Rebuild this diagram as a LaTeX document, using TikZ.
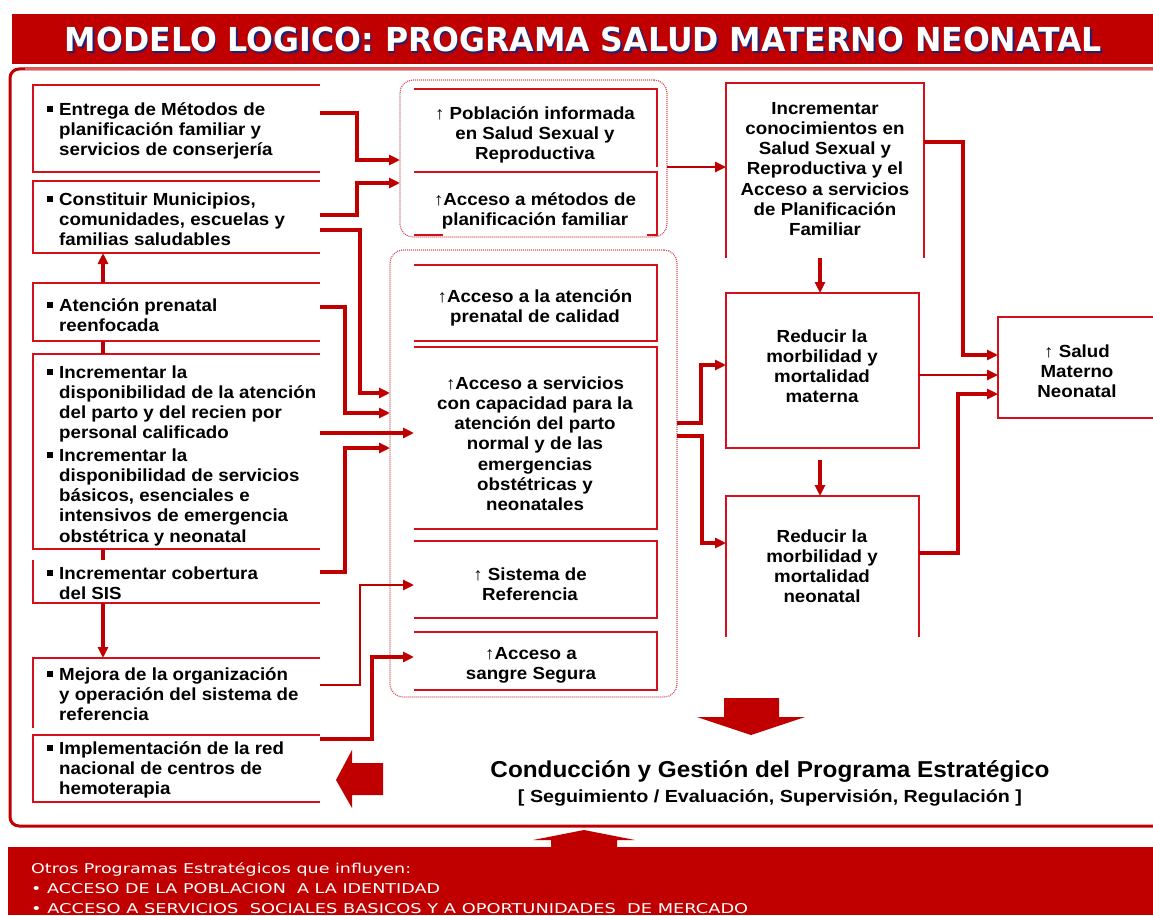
\documentclass[tikz,border=0pt]{standalone}
\usepackage{fontspec}
\setmainfont{Liberation Sans}
\newfontfamily\boxfont{Liberation Sans}[FakeStretch=1.07]
\newfontfamily\titlefont{DejaVu Sans}
\usetikzlibrary{arrows.meta,fit}
\definecolor{rojo}{RGB}{192,0,0}
\definecolor{linea}{RGB}{212,16,28}
\definecolor{punteado}{RGB}{205,80,90}
\definecolor{sombra}{RGB}{25,35,120}
\definecolor{bordesup}{RGB}{225,90,95}
\newcommand{\bul}{\llap{\raisebox{3pt}{\rule{6pt}{6pt}}\hspace{6pt}}}
\begin{document}
\begin{tikzpicture}[x=1pt,y=-1pt,
  boxline/.style={draw=linea, line width=1.8pt},
  area/.style={inner sep=0pt, outer sep=0pt},
  grp/.style={draw=punteado, dash pattern=on 1pt off 1pt, line width=1.2pt, rounded corners=13pt, inner sep=0pt, outer sep=0pt},
  conn/.style={draw=rojo, line width=3.6pt, -{Triangle[length=11pt,width=10pt]}},
  connthin/.style={conn, line width=2.6pt},
  link/.style={draw=rojo, line width=3.6pt},
  ltext/.style={font=\boxfont\bfseries\fontsize{17.5}{20.3}\selectfont, align=left, inner sep=0pt, anchor=base west},
  ctext/.style={font=\boxfont\bfseries\fontsize{17.5}{20.3}\selectfont, align=center, inner sep=0pt, anchor=base},
  block/.style={fill=rojo}
]
\useasboundingbox (0,0) rectangle (1153,915);
\clip (0,0) rectangle (1153,915);

% title bar
\fill[rojo] (12,14) rectangle (1153,64);
\node[inner sep=0pt, anchor=base, text=sombra, font=\titlefont\bfseries\fontsize{33}{33}\selectfont] (titleshadow) at (585,53.5) {\resizebox{1037pt}{24.5pt}{MODELO LOGICO: PROGRAMA SALUD MATERNO NEONATAL}};
\node[inner sep=0pt, anchor=base, text=white, font=\titlefont\bfseries\fontsize{33}{33}\selectfont] (title) at (583.5,52) {\resizebox{1037pt}{24.5pt}{MODELO LOGICO: PROGRAMA SALUD MATERNO NEONATAL}};

% outer frame
\draw[rojo, line width=3pt, rounded corners=9pt] (1175,69) -- (10,69) -- (10,826) -- (1175,826);
\draw[bordesup, line width=2pt] (25,69) -- (1153,69);

% bottom band
\fill[rojo] (8,847) rectangle (1153,915);
\fill[block] (551,848) -- (551,840) -- (533,840) -- (584,830) -- (635,840) -- (617,840) -- (617,848) -- cycle;
\node[inner sep=0pt, anchor=base west, text=white, font=\titlefont\fontsize{13.5}{13.5}\selectfont] (ot1) at (31,873) {\resizebox{380pt}{\height}{Otros Programas Estratégicos que influyen:}};
\node[inner sep=0pt, anchor=base west, text=white, font=\titlefont\fontsize{13.5}{13.5}\selectfont] (ot2) at (31,893) {\resizebox{409pt}{\height}{• ACCESO DE LA POBLACION\ \ A LA IDENTIDAD}};
\node[inner sep=0pt, anchor=base west, text=white, font=\titlefont\fontsize{13.5}{13.5}\selectfont] (ot3) at (31,913) {\resizebox{717pt}{\height}{• ACCESO A SERVICIOS\ \ SOCIALES BASICOS Y A OPORTUNIDADES\ \ DE MERCADO}};

% ---------- left column boxes
\node[area, fit={(33,85)(320,172)}] (L1) {};
\node[area, fit={(33,181)(320,253)}] (L2) {};
\node[area, fit={(33,283)(320,341)}] (L3) {};
\node[area, fit={(33,354)(320,549)}] (L4) {};
\node[area, fit={(33,560)(320,603)}] (L5) {};
\node[area, fit={(33,658)(320,728)}] (L6) {};
\node[area, fit={(33,735)(320,802)}] (L7) {};
\draw[boxline] (L1.north east) -- (L1.north west) -- (L1.south west) -- (L1.south east);
\draw[boxline] (L2.north east) -- (L2.north west) -- (L2.south west) -- (L2.south east);
\draw[boxline] (L3.north east) -- (L3.north west) -- (L3.south west) -- (L3.south east);
\draw[boxline] (L4.north east) -- (L4.north west) -- (L4.south west) -- (L4.south east);
\draw[boxline] (L5.north west) -- (L5.south west) -- (L5.south east);
\draw[boxline] (L6.north east) -- (L6.north west) -- (L6.south west);
\draw[boxline] (L7.north east) -- (L7.north west) -- (L7.south west) -- (L7.south east);

% (anchors are at the baseline of the last line)
\node[ltext] (L1t) at (59,155.6) {\bul Entrega de Métodos de\\planificación familiar y\\servicios de conserjería};
\node[ltext] (L2t) at (59,245.6) {\bul Constituir Municipios,\\comunidades, escuelas y\\familias saludables};
\node[ltext] (L3t) at (59,331.3) {\bul Atención prenatal\\reenfocada};
\node[ltext] (L4at) at (59,438.9) {\bul Incrementar la\\disponibilidad de la atención\\del parto y del recien por\\personal calificado};
\node[ltext] (L4bt) at (59,542.2) {\bul Incrementar la\\disponibilidad de servicios\\básicos, esenciales e\\intensivos de emergencia\\obstétrica y neonatal};
\node[ltext] (L5t) at (59,599.3) {\bul Incrementar cobertura\\del SIS};
\node[ltext] (L6t) at (59,720.6) {\bul Mejora de la organización\\y operación del sistema de\\referencia};
\node[ltext] (L7t) at (59,794.6) {\bul Implementación de la red\\nacional de centros de\\hemoterapia};

% ---------- middle groups
\node[grp, fit={(400,80)(667,237)}] (G1) {};
\node[grp, fit={(390,250)(677,697)}] (G2) {};
\node[area, fit={(414,89)(657,172)}] (M1) {};
\node[area, fit={(414,172)(657,235)}] (M2) {};
\node[area, fit={(414,265)(657,341)}] (M3) {};
\node[area, fit={(414,347)(657,529)}] (M4) {};
\node[area, fit={(414,541)(657,618)}] (M5) {};
\node[area, fit={(414,632)(657,690)}] (M6) {};
\draw[boxline] (M1.north west) -- (M1.north east) -- ([yshift=5pt]M1.south east);
\draw[boxline] (M2.north west) -- (M2.north east) -- (M2.south east) -- ++(-10,0);
\draw[boxline] (M2.south west) -- ++(29,0);
\draw[boxline] (M3.north west) -- (M3.north east) -- (M3.south east) -- (M3.south west);
\draw[boxline] (M4.north west) -- (M4.north east) -- (M4.south east) -- (M4.south west);
\draw[boxline] (M5.north west) -- (M5.north east) -- (M5.south east) -- (M5.south west);
\draw[boxline] (M6.north west) -- (M6.north east) -- (M6.south east) -- (M6.south west);

\node[ctext] (M1t) at (535,159.6) {↑ Población informada\\en Salud Sexual y\\Reproductiva};
\node[ctext] (M2t) at (535,225.3) {↑Acceso a métodos de\\planificación familiar};
\node[ctext] (M3t) at (535,322.3) {↑Acceso a la atención\\prenatal de calidad};
\node[ctext] (M4t) at (535,510.8) {↑Acceso a servicios\\con capacidad para la\\atención del parto\\normal y de las\\emergencias\\obstétricas y\\neonatales};
\node[ctext] (M5t) at (530,600.3) {↑ Sistema de\\Referencia};
\node[ctext] (M6t) at (531,679.3) {↑Acceso a\\sangre Segura};

% ---------- right column
\node[area, fit={(726,83)(924,258)}] (R1) {};
\node[area, fit={(726,293)(919,448)}] (R2) {};
\node[area, fit={(726,496)(919,637)}] (R3) {};
\node[area, fit={(998,317)(1160,418)}] (R4) {};
\draw[boxline] (R1.south west) -- (R1.north west) -- (R1.north east) -- (R1.south east);
\draw[boxline] (R2.south west) rectangle (R2.north east);
\draw[boxline] (R3.south west) -- (R3.north west) -- (R3.north east) -- (R3.south east);
\draw[boxline] (R4.north east) -- (R4.north west) -- (R4.south west) -- (R4.south east);

\node[ctext] (R1t) at (825,235.8) {Incrementar\\conocimientos en\\Salud Sexual y\\Reproductiva y el\\Acceso a servicios\\de Planificación\\Familiar};
\node[ctext] (R2t) at (822,402.9) {Reducir la\\morbilidad y\\mortalidad\\materna};
\node[ctext] (R3t) at (822,602.9) {Reducir la\\morbilidad y\\mortalidad\\neonatal};
\node[ctext] (R4t) at (1077,397.6) {↑ Salud\\Materno\\Neonatal};

% ---------- connectors left -> middle
\draw[conn] ([yshift=-28pt]L1.north east) -- ++(37,0) |- ([yshift=-80pt]G1.north west);
\draw[conn] ([yshift=-34pt]L2.north east) -- ++(37,0) |- ([yshift=-103pt]G1.north west);
\draw[conn] ([yshift=-49pt]L2.north east) -- ++(40,0) |- ([yshift=-143pt]G2.north west);
\draw[conn] ([yshift=-24pt]L3.north east) -- ++(25,0) |- ([yshift=-163pt]G2.north west);
\draw[conn, line width=4.4pt] ([yshift=-79pt]L4.north east) -- ([yshift=-86pt]M4.north west);
\draw[conn] ([yshift=-12pt]L5.north east) -- ++(25,0) |- ([yshift=-198pt]G2.north west);
\draw[connthin] ([yshift=-27pt]L6.north east) -- ++(40,0) |- ([yshift=-44pt]M5.north west);
\draw[conn] ([yshift=-4pt]L7.north east) -- ++(52,0) |- ([yshift=-25pt]M6.north west);

% vertical links in left column
\draw[conn] ([xshift=70pt]L3.north west) -- ([xshift=70pt]L2.south west);
\draw[link] ([xshift=70pt]L3.south west) -- ([xshift=70pt]L4.north west);
\draw[link] ([xshift=70pt]L4.south west) -- ([xshift=70pt]L5.north west);
\draw[conn] ([xshift=70pt]L5.south west) -- ([xshift=70pt]L6.north west);

% middle -> right
\draw[connthin] ([yshift=-87pt]G1.north east) -- ([yshift=-84pt]R1.north west);
\draw[conn] ([yshift=-173pt]G2.north east) -- ++(24,0) |- ([yshift=-72pt]R2.north west);
\draw[conn] ([yshift=-186pt]G2.north east) -- ++(25,0) |- ([yshift=-47pt]R3.north west);
\draw[conn] ([xshift=94pt]R1.south west) -- ([xshift=94pt]R2.north west);
\draw[conn] ([xshift=94pt,yshift=-12pt]R2.south west) -- ([xshift=94pt]R3.north west);

% right -> final
\draw[conn] ([yshift=-59pt]R1.north east) -- ++(39,0) |- ([yshift=-38pt]R4.north west);
\draw[connthin] ([yshift=-82pt]R2.north east) -- ([yshift=-58pt]R4.north west);
\draw[conn] ([yshift=-57pt]R3.north east) -- ++(39,0) |- ([yshift=-77pt]R4.north west);

% block arrows and management text
\fill[block] (724,698) -- (779,698) -- (779,717) -- (805,717) -- (751,735) -- (697,717) -- (724,717) -- cycle;
\fill[block] (383,763) -- (383,795) -- (352,795) -- (352,808) -- (336,780) -- (352,750) -- (352,763) -- cycle;
\node[inner sep=0pt, anchor=base, font=\bfseries\fontsize{23}{23}\selectfont] (cond) at (770,777) {\resizebox{559pt}{\height}{Conducción y Gestión del Programa Estratégico}};
\node[inner sep=0pt, anchor=base, font=\bfseries\fontsize{17.5}{17.5}\selectfont] (seg) at (770,802) {\resizebox{504pt}{\height}{[ Seguimiento / Evaluación, Supervisión, Regulación ]}};
\end{tikzpicture}
\end{document}
